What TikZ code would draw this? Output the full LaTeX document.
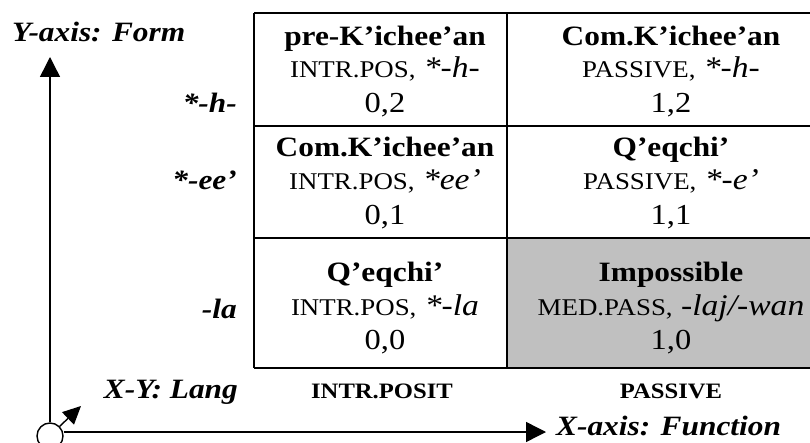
\documentclass[tikz,border=0pt]{standalone}
\usepackage{fontspec}
\setmainfont{Liberation Serif}[FakeStretch=1.12]
\usetikzlibrary{arrows.meta}
\newcommand{\fsz}[1]{\fontsize{#1}{#1}\selectfont}
\newcommand{\sct}[1]{{\fsz{24}#1}}
\tikzset{
  title/.style={font=\fsz{28}\bfseries, anchor=base, inner sep=0pt},
  sub/.style={font=\fsz{30}, anchor=base, inner sep=0pt},
  num/.style={font=\fsz{29}, anchor=base, inner sep=0pt},
  axlab/.style={font=\fsz{28}\bfseries\itshape, anchor=base east, inner sep=0pt},
  funlab/.style={font=\fsz{22}\bfseries, anchor=base, inner sep=0pt},
  gridline/.style={line width=2pt},
  axis/.style={line width=1.4pt, -{Triangle[length=20pt,width=20pt]}},
  diag/.style={line width=1.4pt, -{Triangle[length=18pt,width=17pt]}},
}
\begin{document}
\begin{tikzpicture}[x=1pt, y=-1pt]
\useasboundingbox (0,0) rectangle (810,443);
% gray cell
\fill[fill={rgb,255:red,192;green,192;blue,192}] (507,238) rectangle (840,368);
% table lines
\draw[gridline] (254,13) -- (840,13);
\draw[gridline] (254,126) -- (840,126);
\draw[gridline] (254,238) -- (840,238);
\draw[gridline] (254,368) -- (840,368);
\draw[gridline] (254,13) -- (254,368);
\draw[gridline] (507,13) -- (507,368);
% row 1
\node[title] (t02) at (385,46) {pre-K’ichee’an};
\node[sub]   (s02) at (385,78) {\sct{INTR.POS,} \textit{*-h-}};
\node[num]   (n02) at (385,113) {0,2};
\node[title] (t12) at (671,46) {Com.K’ichee’an};
\node[sub]   (s12) at (671,78) {\sct{PASSIVE,} \textit{*-h-}};
\node[num]   (n12) at (671,113) {1,2};
% row 2
\node[title] (t01) at (385,157) {Com.K’ichee’an};
\node[sub]   (s01) at (385,190) {\sct{INTR.POS,} \textit{*ee’}};
\node[num]   (n01) at (385,225) {0,1};
\node[title] (t11) at (671,157) {Q’eqchi’};
\node[sub]   (s11) at (671,190) {\sct{PASSIVE,} \textit{*-e’}};
\node[num]   (n11) at (671,225) {1,1};
% row 3
\node[title] (t00) at (385,281) {Q’eqchi’};
\node[sub]   (s00) at (385,315) {\sct{INTR.POS,} \textit{*-la}};
\node[num]   (n00) at (385,349) {0,0};
\node[title] (t10) at (671,281) {Impossible};
\node[sub]   (s10) at (671,315) {\sct{MED.PASS,} \textit{-laj/-wan}};
\node[num]   (n10) at (671,349) {1,0};
% left labels
\node[axlab, anchor=base west] (yax) at (12,42) {Y-axis: Form};
\node[axlab] (fh)  at (237,113) {*-h-};
\node[axlab] (fee) at (237,190) {*-ee’};
\node[axlab] (fla) at (237,318) {-la};
\node[axlab] (xy)  at (238,398) {X-Y: Lang};
% bottom labels
\node[funlab] (fip) at (382,398) {INTR.POSIT};
\node[funlab] (fpa) at (671,398) {PASSIVE};
\node[axlab, anchor=base west] (xax) at (556,435) {X-axis: Function};
% axes
\node[circle, draw, line width=1.4pt, fill=white, minimum size=26pt, inner sep=0pt] (o) at (50,436) {};
\coordinate (ytip) at (50,57);
\coordinate (xtip) at (546,432);
\coordinate (dtip) at (81,406);
\draw[axis] (o.north) -- (ytip);
\draw[axis] (o.east |- xtip) -- (xtip);
\draw[diag] (o.45) -- (dtip);
\end{tikzpicture}
\end{document}
